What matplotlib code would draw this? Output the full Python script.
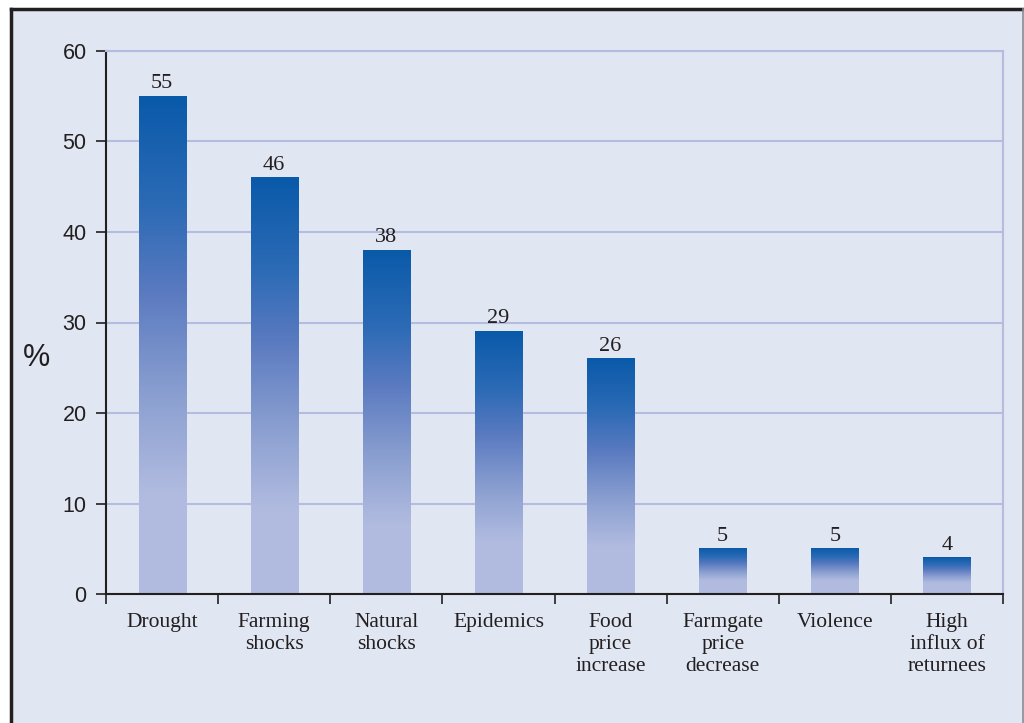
import numpy as np
import matplotlib
matplotlib.use("Agg")
import matplotlib.pyplot as plt
from matplotlib.colors import LinearSegmentedColormap
from matplotlib.lines import Line2D

categories = ["Drought", "Farming\nshocks", "Natural\nshocks", "Epidemics",
              "Food\nprice\nincrease", "Farmgate\nprice\ndecrease", "Violence",
              "High\ninflux of\nreturnees"]
values = [55, 46, 38, 29, 26, 5, 5, 4]
yticks = [0, 10, 20, 30, 40, 50, 60]

bg = "#E0E6F2"
grid_col = "#B4BCE0"
dark = "#231F20"
cmap = LinearSegmentedColormap.from_list(
    "bar", [(0, "#B1BBE0"), (0.25, "#8A9FD0"), (0.51, "#5A7AC0"),
            (0.72, "#2D6BB6"), (1, "#0A5AAA")])

fig = plt.figure(figsize=(10.24, 7.23), dpi=100)
fig.patch.set_facecolor(bg)

# outer frame: dark top and left, grey edge on the right
W, H = 1024, 723
fig.patches.append(plt.Rectangle((0, 0), 11 / W, 1, transform=fig.transFigure,
                                 facecolor="white", edgecolor="none", zorder=-2))
fig.patches.append(plt.Rectangle((0, 1 - 8 / H), 1, 8 / H, transform=fig.transFigure,
                                 facecolor="white", edgecolor="none", zorder=-2))
fig.lines.append(Line2D([11 / W, 11 / W], [0, 1 - 9 / H], transform=fig.transFigure,
                        color=dark, lw=2.5))
fig.lines.append(Line2D([11 / W, 1], [1 - 9 / H, 1 - 9 / H], transform=fig.transFigure,
                        color=dark, lw=2.5))
fig.lines.append(Line2D([1022.5 / W, 1022.5 / W], [0, 1 - 9 / H], transform=fig.transFigure,
                        color="#8A8C94", lw=1.2))

ax = fig.add_axes([106 / W, 1 - 594 / H, 897 / W, 543 / H])
ax.set_facecolor(bg)

for y in yticks[1:]:
    ax.axhline(y, color=grid_col, lw=1.5, zorder=1)

w = 0.42
for i, v in enumerate(values):
    x = i + 0.5
    frac = 0.8 if v > 10 else 0.7
    t = np.linspace(0, 1, 200)
    g = np.clip((t - (1 - frac)) / frac, 0, 1).reshape(-1, 1)
    ax.imshow(g, cmap=cmap, vmin=0, vmax=1, origin="lower", aspect="auto",
              extent=(x - w / 2, x + w / 2, 0, v), zorder=2, interpolation="bilinear")
    ax.text(x, v + 0.35, str(v), ha="center", va="bottom", fontsize=16,
            family="Liberation Serif", color=dark)
ax.set_xlim(0, len(values))
ax.set_ylim(0, 60)

for s in ["left", "bottom"]:
    ax.spines[s].set_color(dark)
    ax.spines[s].set_linewidth(1.5)
for s in ["top", "right"]:
    ax.spines[s].set_color(grid_col)
    ax.spines[s].set_linewidth(1.5)

ax.set_yticks(yticks)
ax.set_yticklabels([str(y) for y in yticks], family="Liberation Sans", fontsize=15.5, color=dark)
ax.tick_params(axis="y", length=7, width=1.2, color=dark, pad=7)

ax.set_xticks(np.arange(len(values) + 1))
ax.set_xticklabels([])
ax.tick_params(axis="x", which="major", length=7, width=1.2, color=dark, direction="out")
ax.set_xticks(np.arange(len(values)) + 0.5, minor=True)
ax.set_xticklabels(categories, minor=True, family="Liberation Serif", fontsize=15.5,
                   color=dark, linespacing=1.2)
ax.tick_params(axis="x", which="minor", length=0, pad=14)

fig.text(36 / W, 1 - 358 / H, "%", family="Liberation Sans", fontsize=22,
         ha="center", va="center", color=dark)

fig.savefig("out.png", dpi=100, facecolor=fig.get_facecolor())
